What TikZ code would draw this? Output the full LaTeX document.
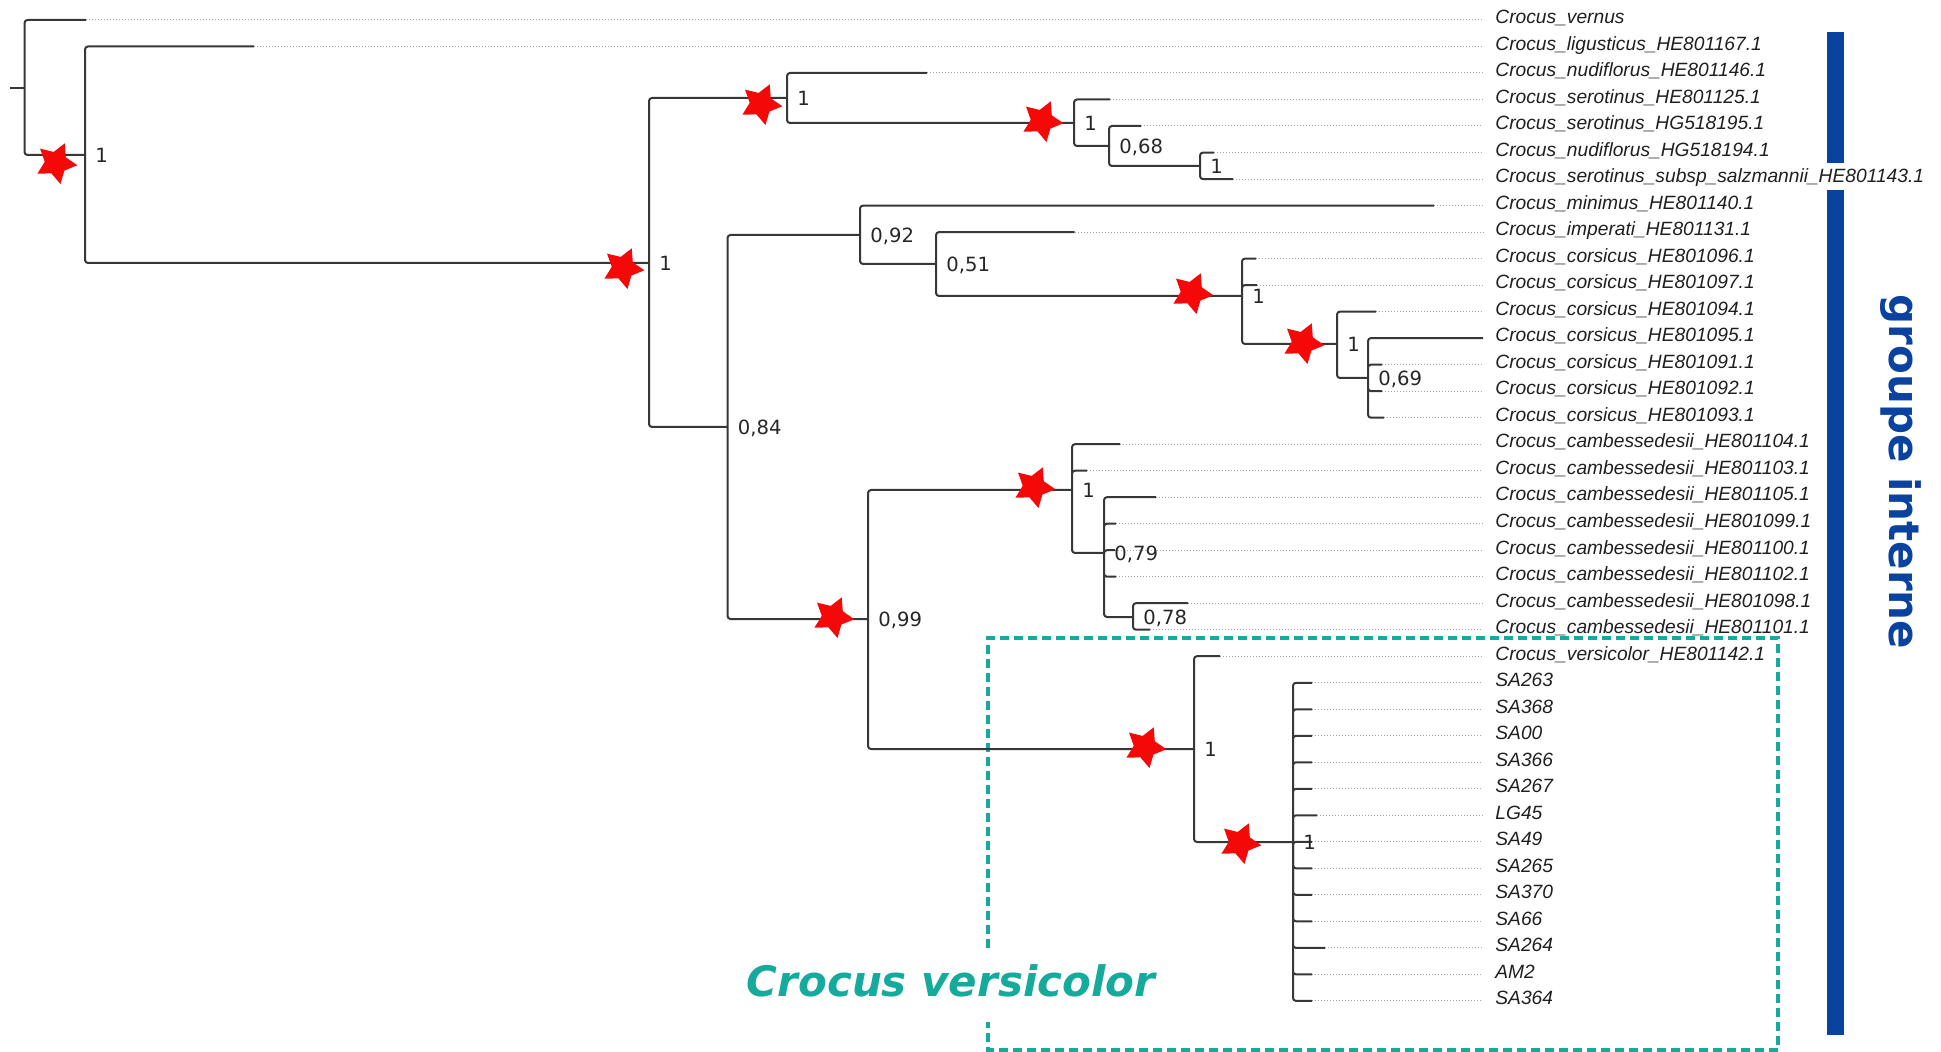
\documentclass[tikz,border=0pt]{standalone}
\usepackage{fontspec}
\usepackage{tikz}
\usetikzlibrary{shapes.geometric, positioning}
\newfontfamily\taxfont{Liberation Sans}
\newfontfamily\supfont{DejaVu Sans}
\definecolor{treegray}{RGB}{55,55,55}
\definecolor{dotgray}{RGB}{165,165,165}
\definecolor{starred}{RGB}{245,8,8}
\definecolor{versteal}{RGB}{22,170,156}
\definecolor{grpblue}{RGB}{10,66,160}

\begin{document}
\begin{tikzpicture}[
  x=0.5pt, y=-0.5pt,
  branch/.style={draw=treegray, line width=1pt, rounded corners=1.5pt},
  leafdots/.style={draw=dotgray, line width=0.5pt, dash pattern=on 0.5pt off 1pt},
  taxon/.style={anchor=west, inner xsep=6pt, inner ysep=0pt, text height=6.8pt, text depth=3pt, font=\taxfont\itshape\fontsize{9.6pt}{11pt}\selectfont, text=black!88},
  support/.style={anchor=west, inner sep=0pt, text height=7.1pt, text depth=0pt, font=\supfont\fontsize{9.8pt}{11pt}\selectfont, text=black!85},
  bstar/.style={star, star points=5, star point ratio=1.9, minimum size=21.5pt, inner sep=0pt, fill=starred, rotate=-24},
  cladebox/.style={draw=versteal, line width=2pt, dash pattern=on 4.5pt off 2.5pt},
  cladelabel/.style={anchor=base, inner sep=0pt, text=versteal, font=\supfont\bfseries\itshape\fontsize{21pt}{25pt}\selectfont},
  groupbar/.style={draw=grpblue, line width=8.5pt},
  grouplabel/.style={rotate=-90, inner sep=0pt, text=grpblue, font=\supfont\bfseries\fontsize{21pt}{25pt}\selectfont}
]
\useasboundingbox (0,0) rectangle (1941,1052);

\draw[cladebox] (988,948) -- (988,638) -- (1778,638) -- (1778,1050) -- (988,1050) -- (988,1022);
\node[cladelabel] (vers) at (951,996) {Crocus versicolor};

\draw[groupbar] (1835.5,32) -- (1835.5,163);
\draw[groupbar] (1835.5,190) -- (1835.5,1035);
\node[grouplabel] (grp) at (1901,472) {groupe interne};

\coordinate (rootstub) at (10,88);
\coordinate (root) at (24.5,88);
\coordinate (nA) at (85,155);
\coordinate (nB) at (649,263);
\coordinate (nC) at (787,98);
\coordinate (nD) at (1074,123);
\coordinate (nE) at (1109,146);
\coordinate (nF) at (1200,166);
\coordinate (nG) at (727.5,427);
\coordinate (nH) at (860,235);
\coordinate (nI) at (936,264);
\coordinate (nJ) at (1242,296);
\coordinate (nK) at (1337,344);
\coordinate (nL) at (1368,378);
\coordinate (nM) at (868,619);
\coordinate (nN) at (1072,490);
\coordinate (nO) at (1104,553);
\coordinate (nP) at (1133,617);
\coordinate (nS) at (1194,749);
\coordinate (nT) at (1293,842);

\coordinate (t0) at (86,20);
\coordinate (t1) at (254,46.5);
\coordinate (t2) at (927,73);
\coordinate (t3) at (1110,99.5);
\coordinate (t4) at (1141,126);
\coordinate (t5) at (1214,152.6);
\coordinate (t6) at (1233,179.1);
\coordinate (t7) at (1434,205.6);
\coordinate (t8) at (1074.5,232.1);
\coordinate (t9) at (1256,258.6);
\coordinate (t10) at (1257,285.1);
\coordinate (t11) at (1376,311.6);
\coordinate (t12) at (1483,338.1);
\coordinate (t13) at (1382,364.6);
\coordinate (t14) at (1382,391.1);
\coordinate (t15) at (1384,417.7);
\coordinate (t16) at (1120,444.2);
\coordinate (t17) at (1087,470.7);
\coordinate (t18) at (1156,497.2);
\coordinate (t19) at (1116,523.7);
\coordinate (t20) at (1115,550.2);
\coordinate (t21) at (1116,576.7);
\coordinate (t22) at (1188,603.2);
\coordinate (t23) at (1150,629.7);
\coordinate (t24) at (1220,656.2);
\coordinate (t25) at (1312,682.8);
\coordinate (t26) at (1312,709.3);
\coordinate (t27) at (1312,735.8);
\coordinate (t28) at (1312,762.3);
\coordinate (t29) at (1312,788.8);
\coordinate (t30) at (1317,815.3);
\coordinate (t31) at (1312,841.8);
\coordinate (t32) at (1312,868.3);
\coordinate (t33) at (1312,894.8);
\coordinate (t34) at (1312,921.3);
\coordinate (t35) at (1325,947.9);
\coordinate (t36) at (1312,974.4);
\coordinate (t37) at (1312,1000.9);

\node[taxon] (lab0) at (1483,20) {Crocus\_vernus};
\node[taxon] (lab1) at (1483,46.5) {Crocus\_ligusticus\_HE801167.1};
\node[taxon] (lab2) at (1483,73) {Crocus\_nudiflorus\_HE801146.1};
\node[taxon] (lab3) at (1483,99.5) {Crocus\_serotinus\_HE801125.1};
\node[taxon] (lab4) at (1483,126) {Crocus\_serotinus\_HG518195.1};
\node[taxon] (lab5) at (1483,152.6) {Crocus\_nudiflorus\_HG518194.1};
\node[taxon] (lab6) at (1483,179.1) {Crocus\_serotinus\_subsp\_salzmannii\_HE801143.1};
\node[taxon] (lab7) at (1483,205.6) {Crocus\_minimus\_HE801140.1};
\node[taxon] (lab8) at (1483,232.1) {Crocus\_imperati\_HE801131.1};
\node[taxon] (lab9) at (1483,258.6) {Crocus\_corsicus\_HE801096.1};
\node[taxon] (lab10) at (1483,285.1) {Crocus\_corsicus\_HE801097.1};
\node[taxon] (lab11) at (1483,311.6) {Crocus\_corsicus\_HE801094.1};
\node[taxon] (lab12) at (1483,338.1) {Crocus\_corsicus\_HE801095.1};
\node[taxon] (lab13) at (1483,364.6) {Crocus\_corsicus\_HE801091.1};
\node[taxon] (lab14) at (1483,391.1) {Crocus\_corsicus\_HE801092.1};
\node[taxon] (lab15) at (1483,417.7) {Crocus\_corsicus\_HE801093.1};
\node[taxon] (lab16) at (1483,444.2) {Crocus\_cambessedesii\_HE801104.1};
\node[taxon] (lab17) at (1483,470.7) {Crocus\_cambessedesii\_HE801103.1};
\node[taxon] (lab18) at (1483,497.2) {Crocus\_cambessedesii\_HE801105.1};
\node[taxon] (lab19) at (1483,523.7) {Crocus\_cambessedesii\_HE801099.1};
\node[taxon] (lab20) at (1483,550.2) {Crocus\_cambessedesii\_HE801100.1};
\node[taxon] (lab21) at (1483,576.7) {Crocus\_cambessedesii\_HE801102.1};
\node[taxon] (lab22) at (1483,603.2) {Crocus\_cambessedesii\_HE801098.1};
\node[taxon] (lab23) at (1483,629.7) {Crocus\_cambessedesii\_HE801101.1};
\node[taxon] (lab24) at (1483,656.2) {Crocus\_versicolor\_HE801142.1};
\node[taxon] (lab25) at (1483,682.8) {SA263};
\node[taxon] (lab26) at (1483,709.3) {SA368};
\node[taxon] (lab27) at (1483,735.8) {SA00};
\node[taxon] (lab28) at (1483,762.3) {SA366};
\node[taxon] (lab29) at (1483,788.8) {SA267};
\node[taxon] (lab30) at (1483,815.3) {LG45};
\node[taxon] (lab31) at (1483,841.8) {SA49};
\node[taxon] (lab32) at (1483,868.3) {SA265};
\node[taxon] (lab33) at (1483,894.8) {SA370};
\node[taxon] (lab34) at (1483,921.3) {SA66};
\node[taxon] (lab35) at (1483,947.9) {SA264};
\node[taxon] (lab36) at (1483,974.4) {AM2};
\node[taxon] (lab37) at (1483,1000.9) {SA364};

\draw[leafdots] (t0) -- (lab0.west);
\draw[leafdots] (t1) -- (lab1.west);
\draw[leafdots] (t2) -- (lab2.west);
\draw[leafdots] (t3) -- (lab3.west);
\draw[leafdots] (t4) -- (lab4.west);
\draw[leafdots] (t5) -- (lab5.west);
\draw[leafdots] (t6) -- (lab6.west);
\draw[leafdots] (t7) -- (lab7.west);
\draw[leafdots] (t8) -- (lab8.west);
\draw[leafdots] (t9) -- (lab9.west);
\draw[leafdots] (t10) -- (lab10.west);
\draw[leafdots] (t11) -- (lab11.west);
\draw[leafdots] (t13) -- (lab13.west);
\draw[leafdots] (t14) -- (lab14.west);
\draw[leafdots] (t15) -- (lab15.west);
\draw[leafdots] (t16) -- (lab16.west);
\draw[leafdots] (t17) -- (lab17.west);
\draw[leafdots] (t18) -- (lab18.west);
\draw[leafdots] (t19) -- (lab19.west);
\draw[leafdots] (t20) -- (lab20.west);
\draw[leafdots] (t21) -- (lab21.west);
\draw[leafdots] (t22) -- (lab22.west);
\draw[leafdots] (t23) -- (lab23.west);
\draw[leafdots] (t24) -- (lab24.west);
\draw[leafdots] (t25) -- (lab25.west);
\draw[leafdots] (t26) -- (lab26.west);
\draw[leafdots] (t27) -- (lab27.west);
\draw[leafdots] (t28) -- (lab28.west);
\draw[leafdots] (t29) -- (lab29.west);
\draw[leafdots] (t30) -- (lab30.west);
\draw[leafdots] (t31) -- (lab31.west);
\draw[leafdots] (t32) -- (lab32.west);
\draw[leafdots] (t33) -- (lab33.west);
\draw[leafdots] (t34) -- (lab34.west);
\draw[leafdots] (t35) -- (lab35.west);
\draw[leafdots] (t36) -- (lab36.west);
\draw[leafdots] (t37) -- (lab37.west);

\draw[branch] (rootstub) -- (root);
\draw[branch] (root) |- (t0) (root) |- (nA);
\draw[branch] (nA) |- (t1) (nA) |- (nB);
\draw[branch] (nB) |- (nC) (nB) |- (nG);
\draw[branch] (nC) |- (t2) (nC) |- (nD);
\draw[branch] (nD) |- (t3) (nD) |- (nE);
\draw[branch] (nE) |- (t4) (nE) |- (nF);
\draw[branch] (nF) |- (t5) (nF) |- (t6);
\draw[branch] (nG) |- (nH) (nG) |- (nM);
\draw[branch] (nH) |- (t7) (nH) |- (nI);
\draw[branch] (nI) |- (t8) (nI) |- (nJ);
\draw[branch] (nJ) |- (t9) (nJ) |- (t10) (nJ) |- (nK);
\draw[branch] (nK) |- (t11) (nK) |- (nL);
\draw[branch] (nL) |- (t12) (nL) |- (t13) (nL) |- (t14) (nL) |- (t15);
\draw[branch] (nM) |- (nN) (nM) |- (nS);
\draw[branch] (nN) |- (t16) (nN) |- (t17) (nN) |- (nO);
\draw[branch] (nO) |- (t18) (nO) |- (t19) (nO) |- (t20) (nO) |- (t21) (nO) |- (nP);
\draw[branch] (nP) |- (t22) (nP) |- (t23);
\draw[branch] (nS) |- (t24) (nS) |- (nT);
\draw[branch] (nT) |- (t25) (nT) |- (t26) (nT) |- (t27) (nT) |- (t28) (nT) |- (t29);
\draw[branch] (nT) |- (t30) (nT) |- (t31) (nT) |- (t32) (nT) |- (t33) (nT) |- (t34);
\draw[branch] (nT) |- (t35) (nT) |- (t36) (nT) |- (t37);

\node[bstar] (sA) at (56,163) {};
\node[bstar] (sB) at (623,268) {};
\node[bstar] (sC) at (761,104) {};
\node[bstar] (sD) at (1042,121) {};
\node[bstar] (sJ) at (1192,293) {};
\node[bstar] (sK) at (1303,343) {};
\node[bstar] (sM) at (833,617) {};
\node[bstar] (sN) at (1034,487) {};
\node[bstar] (sS) at (1145,747) {};
\node[bstar] (sT) at (1240,843) {};

\node[support, right=5pt of nA] (bA) {1};
\node[support, right=5pt of nB] (bB) {1};
\node[support, right=5pt of nC] (bC) {1};
\node[support, right=5pt of nD] (bD) {1};
\node[support, right=5pt of nE] (bE) {0,68};
\node[support, right=5pt of nF] (bF) {1};
\node[support, right=5pt of nG] (bG) {0,84};
\node[support, right=5pt of nH] (bH) {0,92};
\node[support, right=5pt of nI] (bI) {0,51};
\node[support, right=5pt of nJ] (bJ) {1};
\node[support, right=5pt of nK] (bK) {1};
\node[support, right=5pt of nL] (bL) {0,69};
\node[support, right=5pt of nM] (bM) {0,99};
\node[support, right=5pt of nN] (bN) {1};
\node[support, right=5pt of nO] (bO) {0,79};
\node[support, right=5pt of nP] (bP) {0,78};
\node[support, right=5pt of nS] (bS) {1};
\node[support, right=5pt of nT] (bT) {1};

\end{tikzpicture}
\end{document}
